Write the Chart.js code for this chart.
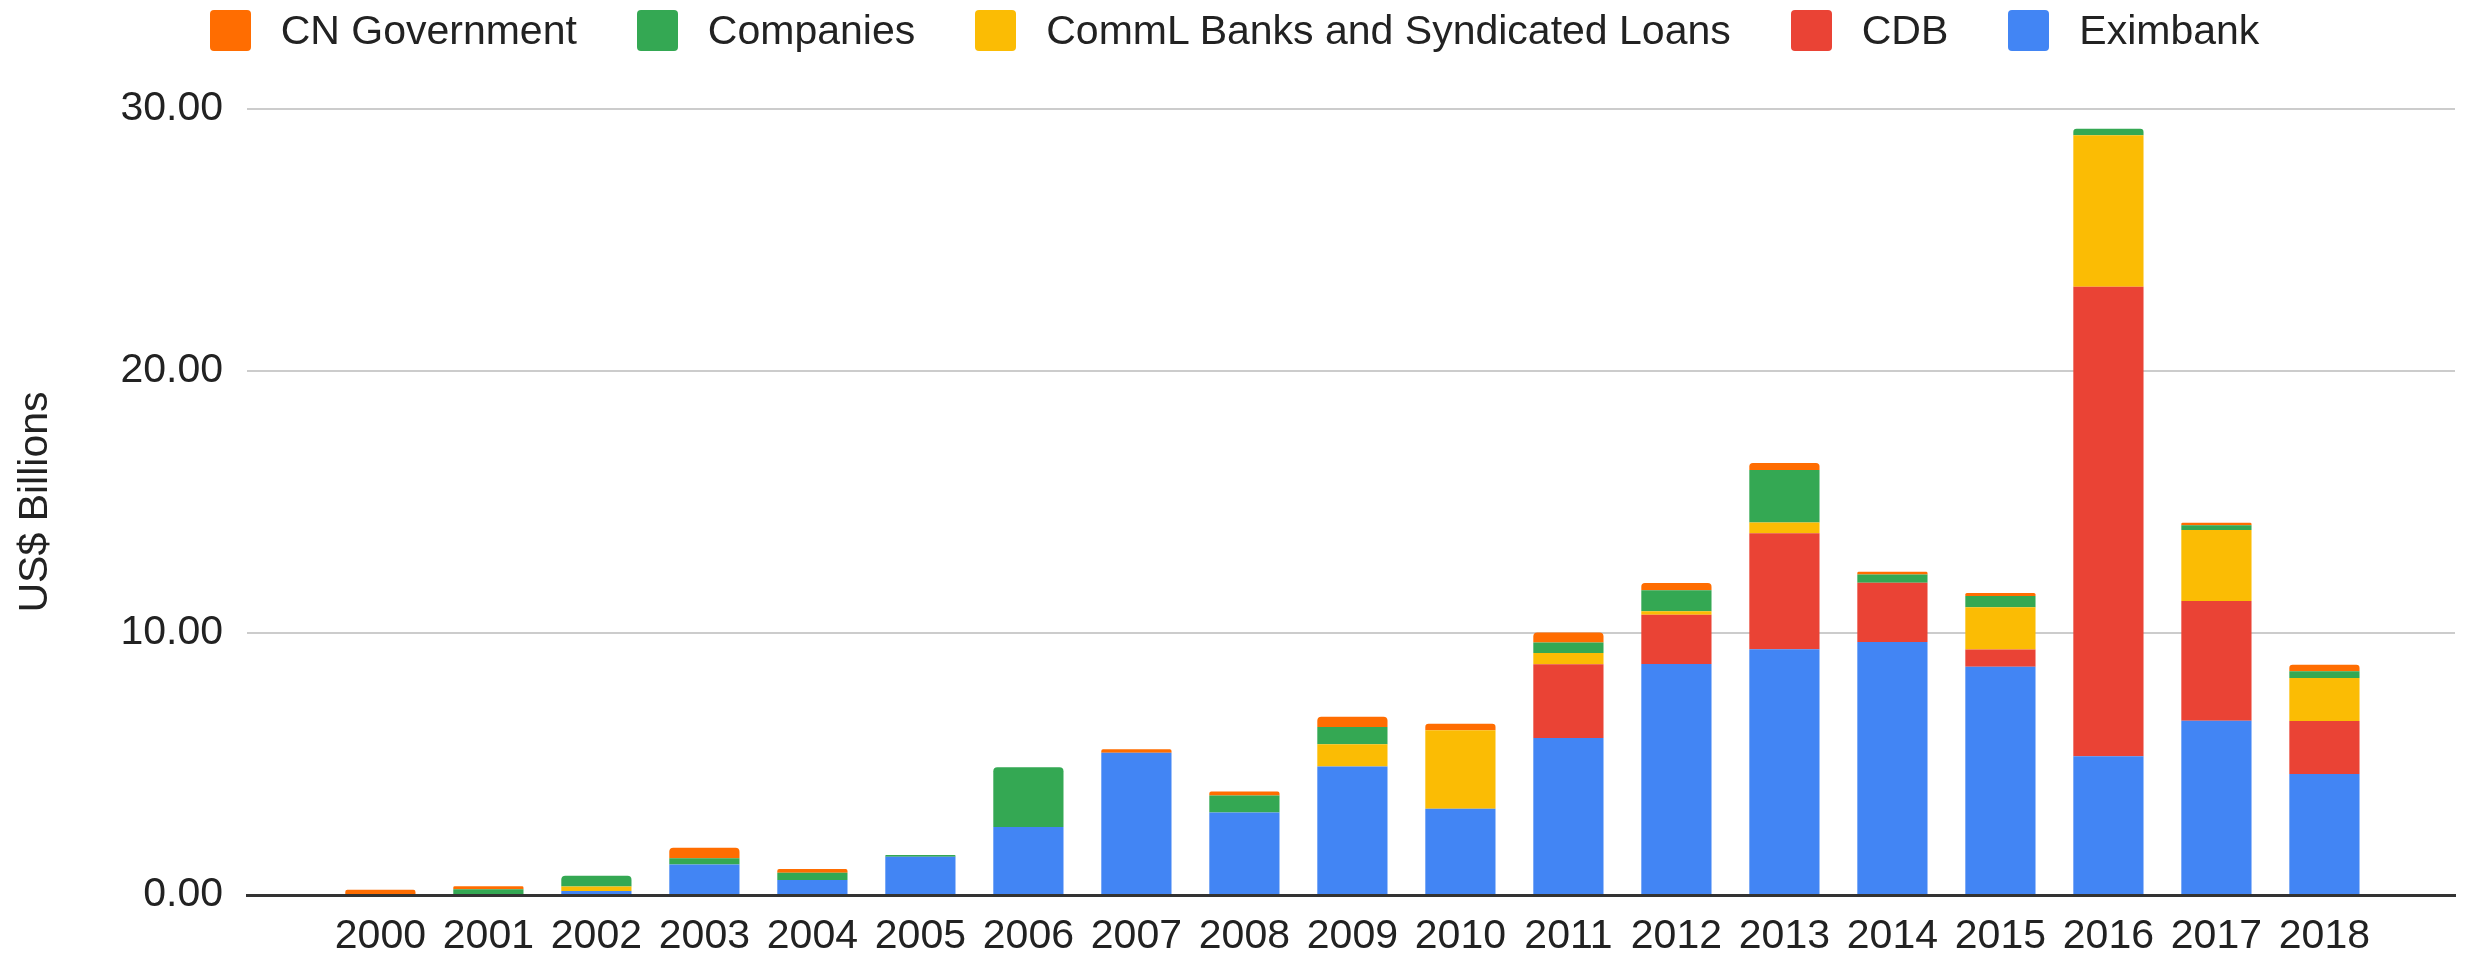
<!DOCTYPE html>
<html>
<head>
<meta charset="utf-8">
<title>Chinese loans by lender</title>
<script src="https://cdn.jsdelivr.net/npm/chart.js@4/dist/chart.umd.min.js"></script>
<style>
	body { margin: 0; background: #fff; }
	#wrap { position: relative; width: 2469px; height: 957px; background: #fff; }
	#chart { position: absolute; left: 0; top: 0; }
	#legend {
		position: absolute; left: 0; top: 9px; width: 2469px; height: 42px;
		display: flex; justify-content: center; align-items: center;
		font: 41px "Liberation Sans", Arial, sans-serif; color: #222;
	}
	#legend .item { display: flex; align-items: center; line-height: 42px; margin-right: 60px; }
	#legend .item:last-child { margin-right: 0; }
	#legend .box { width: 41px; height: 41px; border-radius: 4px; margin-right: 30px; }
</style>
</head>
<body>
<div id="wrap">
	<canvas id="chart" width="2469" height="957"></canvas>
	<div id="legend"></div>
</div>
<script>
// 年
const years = ['2000', '2001', '2002', '2003', '2004', '2005', '2006', '2007', '2008', '2009',
	'2010', '2011', '2012', '2013', '2014', '2015', '2016', '2017', '2018']

// 貸し手ごとの金額 (US$ Billions)
const eximbank     = [0, 0, 0.15, 1.16, 0.57, 1.46, 2.60, 5.43, 3.15, 4.90, 3.29, 5.99, 8.82, 9.38, 9.66, 8.71, 5.30, 6.65, 4.62]
const cdb          = [0, 0, 0, 0, 0, 0, 0, 0, 0, 0, 0, 2.82, 1.88, 4.43, 2.26, 0.66, 17.92, 4.57, 2.02]
const commlBanks   = [0, 0, 0.17, 0, 0, 0, 0, 0, 0, 0.85, 3.00, 0.43, 0.13, 0.41, 0, 1.61, 5.78, 2.71, 1.64]
const companies    = [0, 0.22, 0.41, 0.24, 0.28, 0.07, 2.28, 0, 0.65, 0.66, 0, 0.40, 0.80, 2.00, 0.31, 0.43, 0.25, 0.18, 0.26]
const cnGovernment = [0.20, 0.11, 0, 0.40, 0.14, 0, 0, 0.13, 0.15, 0.39, 0.25, 0.38, 0.28, 0.27, 0.11, 0.12, 0, 0.10, 0.25]

// 縦軸の目盛り
const yTicks = [0, 10, 20, 30]

// 下から積む順
const series = [
	{ name: 'Eximbank', values: eximbank, color: '#4285f4' },
	{ name: 'CDB', values: cdb, color: '#ea4335' },
	{ name: 'CommL Banks and Syndicated Loans', values: commlBanks, color: '#fbbc04' },
	{ name: 'Companies', values: companies, color: '#34a853' },
	{ name: 'CN Government', values: cnGovernment, color: '#ff6d01' },
]

const FONT = '"Liberation Sans", Arial, sans-serif'
const TEXT = '#222'

// 凡例は上に積んだ順から
const legend = document.getElementById('legend')
series.slice().reverse().forEach(s => {
	const item = document.createElement('div')
	item.className = 'item'
	const box = document.createElement('span')
	box.className = 'box'
	box.style.background = s.color
	const label = document.createElement('span')
	label.textContent = s.name
	item.appendChild(box)
	item.appendChild(label)
	legend.appendChild(item)
})

Chart.defaults.font.family = FONT
Chart.defaults.font.size = 41
Chart.defaults.color = TEXT

const chart = new Chart(document.getElementById('chart'), {
	type: 'bar',
	data: {
		datasets: series.map(s => ({
			label: s.name,
			data: s.values.map((v, i) => ({ x: i, y: v })),
			backgroundColor: s.color,
			borderWidth: 0,
			borderRadius: 4,
			barPercentage: 0.65,
			categoryPercentage: 1,
		}))
	},
	options: {
		responsive: false,
		devicePixelRatio: 1,
		animation: false,
		events: [],
		layout: {
			padding: { top: 109, left: 11, right: 14, bottom: 0 }
		},
		plugins: {
			legend: { display: false },
			tooltip: { enabled: false }
		},
		scales: {
			x: {
				type: 'linear',
				stacked: true,
				min: -0.697,
				max: 18.671,
				afterBuildTicks: axis => {
					axis.ticks = years.map((y, i) => ({ value: i }))
				},
				afterFit: axis => { axis.height = 62 },
				ticks: {
					padding: 17,
					color: TEXT,
					maxRotation: 0,
					autoSkip: false,
					callback: v => years[v]
				},
				grid: { display: false, drawTicks: false },
				border: { display: true, color: '#333', width: 3 }
			},
			y: {
				stacked: true,
				min: 0,
				max: 30,
				afterBuildTicks: axis => {
					axis.ticks = yTicks.map(v => ({ value: v }))
				},
				afterFit: axis => { axis.width = 236 },
				ticks: {
					padding: 24,
					color: TEXT,
					callback: v => v.toFixed(2)
				},
				grid: {
					color: '#cccccc',
					lineWidth: 2,
					drawTicks: false
				},
				border: { display: false },
				title: {
					display: true,
					text: 'US$ Billions',
					color: TEXT,
					font: { size: 41 },
					padding: 0
				}
			}
		}
	}
})
</script>
</body>
</html>
